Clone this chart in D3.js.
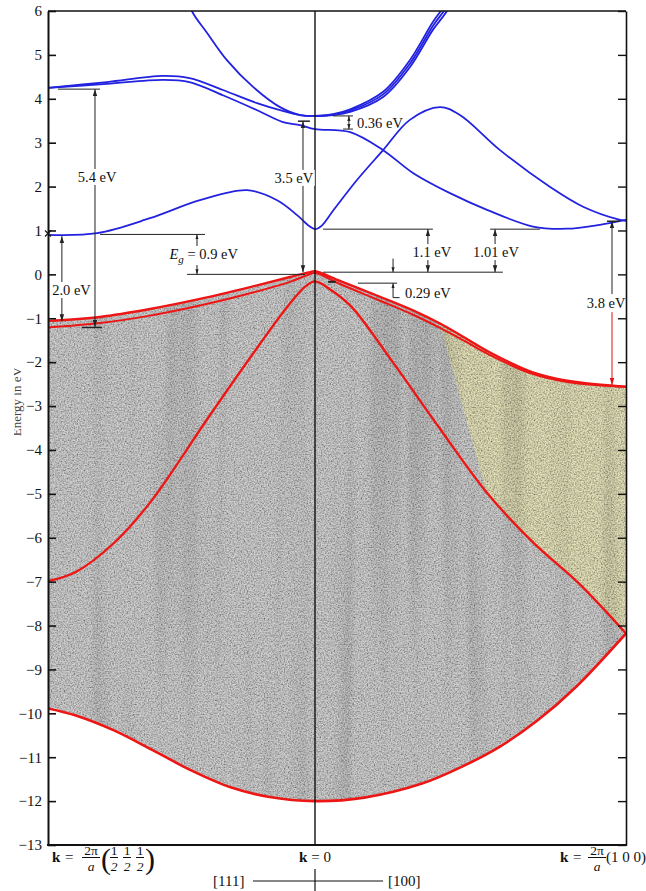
<!DOCTYPE html>
<html><head><meta charset="utf-8">
<script src="https://cdn.jsdelivr.net/npm/d3@7/dist/d3.min.js"></script>
<style>
body{margin:0;background:#fff}
svg{display:block}
text{font-family:"Liberation Serif","Times New Roman",serif;fill:#111}
</style>
</head><body>
<svg id="c" width="646" height="891"></svg>
<script>
// ---------- data: [k, E(eV)]; k=-1 at L (2π/a)(½½½), 0 at Γ, 1 at X (2π/a)(100)
const yTicks = d3.range(-13, 7);
// conduction bands (blue)
const cbLow = [[-1,0.90],[-0.816,0.94],[-0.618,1.28],[-0.431,1.69],[-0.255,1.92],[-0.142,1.69],[-0.067,1.35],[-0.022,1.10],[0,1.03],
  [0.02,1.10],[0.058,1.45],[0.135,2.15],[0.219,2.83],[0.305,3.52],[0.402,3.81],[0.466,3.63],[0.595,2.83],[0.756,1.99],[0.862,1.54],[0.981,1.24],[1,1.22]];
const cbMid = [[-1,4.25],[-0.78,4.34],[-0.57,4.43],[-0.47,4.38],[-0.345,4.08],[-0.217,3.74],[-0.12,3.47],[-0.056,3.40],[0,3.31],
  [0.113,3.24],[0.219,2.83],[0.315,2.31],[0.434,1.85],[0.553,1.47],[0.701,1.09],[0.81,1.04],[0.916,1.13],[1,1.24]];
const cbUp1 = [[-1,4.25],[-0.78,4.38],[-0.57,4.52],[-0.47,4.47],[-0.345,4.20],[-0.217,3.90],[-0.131,3.74],[-0.056,3.63],[0,3.61],
  [0.058,3.63],[0.113,3.70],[0.219,4.04],[0.305,4.72],[0.379,5.57],[0.424,6.0],[0.45,6.4]];
const cbUp2 = [[-0.48,6.4],[-0.461,6.0],[-0.404,5.5],[-0.33,4.88],[-0.232,4.27],[-0.131,3.81],[-0.056,3.63],[0,3.61],
  [0.058,3.64],[0.113,3.73],[0.219,4.10],[0.305,4.80],[0.379,5.66],[0.424,6.1],[0.45,6.5]];
const cbUp3 = [[0,3.61],[0.058,3.65],[0.113,3.76],[0.219,4.16],[0.305,4.88],[0.379,5.75],[0.424,6.2],[0.45,6.6]];
// valence bands (red)
const vbHeavy = [[-1,-1.06],[-0.805,-0.97],[-0.618,-0.79],[-0.431,-0.56],[-0.243,-0.29],[-0.094,-0.06],[-0.019,0.05],[0,0.07],
  [0.08,-0.15],[0.209,-0.51],[0.315,-0.82],[0.402,-1.12],[0.476,-1.42],[0.563,-1.78],[0.691,-2.21],[0.772,-2.37],[0.852,-2.46],[1,-2.56]];
const vbLight = [[-1,-1.21],[-0.805,-1.11],[-0.618,-0.94],[-0.431,-0.71],[-0.243,-0.43],[-0.094,-0.17],[-0.03,-0.02],[0,0.03],
  [0.08,-0.22],[0.209,-0.60],[0.315,-0.92],[0.402,-1.22],[0.476,-1.50],[0.563,-1.84],[0.691,-2.25],[0.772,-2.40],[0.852,-2.49],[1,-2.56]];
const vbInner = [[-1,-6.99],[-0.896,-6.78],[-0.753,-6.12],[-0.618,-5.2],[-0.404,-3.3],[-0.243,-1.9],[-0.105,-0.75],[-0.037,-0.28],[0,-0.16],
  [0.05,-0.35],[0.116,-0.73],[0.25,-2.0],[0.4,-3.5],[0.55,-4.95],[0.7,-6.1],[0.85,-7.05],[1,-8.18]];
const vbBottom = [[-1,-9.89],[-0.896,-10.05],[-0.753,-10.39],[-0.608,-10.84],[-0.464,-11.3],[-0.319,-11.68],[-0.176,-11.9],[0,-12.0],
  [0.158,-11.92],[0.344,-11.6],[0.468,-11.23],[0.592,-10.77],[0.716,-10.16],[0.839,-9.4],[1,-8.18]];
// annotation values
const gapLabels = ["5.4 eV","2.0 eV","3.5 eV","0.36 eV","1.1 eV","1.01 eV","0.29 eV","3.8 eV"];

// ---------- scales
const x = d3.scaleLinear().domain([-1,0,1]).range([48,315,626]);
const y = d3.scaleLinear().domain([-13,6]).range([845,11]);
const svg = d3.select("#c");
const defs = svg.append("defs");
defs.append("clipPath").attr("id","plot").append("rect")
  .attr("x",x(-1)).attr("y",y(6)).attr("width",x(1)-x(-1)).attr("height",y(-13)-y(6));
defs.append("clipPath").attr("id","ylab").append("rect").attr("x",14).attr("y",300).attr("width",20).attr("height",200);

const flt = defs.append("filter").attr("id","grain").attr("x",0).attr("y",0).attr("width",1).attr("height",1);
flt.append("feTurbulence").attr("type","fractalNoise").attr("baseFrequency","0.7").attr("numOctaves",2).attr("seed",4).attr("result","n");
flt.append("feColorMatrix").attr("in","n").attr("type","saturate").attr("values",0).attr("result","g");
const ct = flt.append("feComponentTransfer").attr("in","g").attr("result","g2");
["R","G","B"].forEach(c=>ct.append("feFunc"+c).attr("type","linear").attr("slope",1.7).attr("intercept",-0.1));
ct.append("feFuncA").attr("type","linear").attr("slope",0).attr("intercept",1);
flt.append("feTurbulence").attr("type","fractalNoise").attr("baseFrequency","0.045 0.0015").attr("numOctaves",2).attr("seed",9).attr("result","s");
flt.append("feColorMatrix").attr("in","s").attr("type","saturate").attr("values",0).attr("result","sg");
const ct2 = flt.append("feComponentTransfer").attr("in","sg").attr("result","s2");
["R","G","B"].forEach(c=>ct2.append("feFunc"+c).attr("type","linear").attr("slope",0.9).attr("intercept",0.55));
ct2.append("feFuncA").attr("type","linear").attr("slope",0).attr("intercept",1);
flt.append("feBlend").attr("in","g2").attr("in2","s2").attr("mode","multiply").attr("result","tx");
flt.append("feBlend").attr("in","SourceGraphic").attr("in2","tx").attr("mode","multiply").attr("result","b");
flt.append("feComposite").attr("in","b").attr("in2","SourceGraphic").attr("operator","in");

function mk(id,color,len){
  defs.append("marker").attr("id",id).attr("viewBox","0 0 10 10").attr("refX",10).attr("refY",5)
    .attr("markerWidth",len).attr("markerHeight",len).attr("markerUnits","userSpaceOnUse")
    .attr("orient","auto-start-reverse").append("path").attr("d","M0,1.8 L10,5 L0,8.2 Z").attr("fill",color);
}
mk("ah","#222",7); mk("ahs","#222",5); mk("ahr","#e01010",7);

const line = d3.line().x(d=>x(d[0])).y(d=>y(d[1])).curve(d3.curveCatmullRom.alpha(0.5));

// ---------- shaded valence region
const plot = svg.append("g").attr("clip-path","url(#plot)");
const shade = plot.append("g").attr("filter","url(#grain)");
const regionD = line(vbHeavy) + "L" + line(vbBottom.slice().reverse()).substring(1) + "Z";
shade.append("path").attr("d",regionD).attr("fill","#d0d0d0");
const yTop = vbHeavy.filter(d=>d[0]>=0.40), yBot = vbInner.filter(d=>d[0]>=0.55).reverse();
shade.append("path").attr("d", line(yTop) + "L" + line(yBot).substring(1) + "Z")
  .attr("fill","#fff8a0").attr("opacity",0.45);

// Γ line
svg.append("line").attr("x1",x(0)).attr("x2",x(0)).attr("y1",y(6)).attr("y2",y(-13))
  .attr("stroke","#111").attr("stroke-width",1.4);

// bands
const red="#ee1515", blue="#2222e0";
[[vbBottom,2.6],[vbInner,2.3],[vbLight,2.0],[vbHeavy,2.4]].forEach(([d,w])=>
  plot.append("path").attr("d",line(d)).attr("fill","none").attr("stroke",red).attr("stroke-width",w));
[cbLow,cbMid,cbUp1,cbUp2,cbUp3].forEach(d=>
  plot.append("path").attr("d",line(d)).attr("fill","none").attr("stroke",blue).attr("stroke-width",1.8));

// ---------- annotations
const an = svg.append("g").attr("stroke","#222").attr("stroke-width",1).attr("fill","none");
function seg(k1,E1,k2,E2,opt={}){
  const l = an.append("line").attr("x1",x(k1)).attr("y1",y(E1)).attr("x2",x(k2)).attr("y2",y(E2));
  if(opt.s) l.attr("marker-start",`url(#${opt.s})`);
  if(opt.e) l.attr("marker-end",`url(#${opt.e})`);
  if(opt.c) l.attr("stroke",opt.c);
  if(opt.w) l.attr("stroke-width",opt.w);
  return l;
}
const tg = svg.append("g").attr("font-size",14.5);
function label(txt,k,E,anchor="middle",bg=true){
  const t = tg.append("text").attr("x",x(k)).attr("y",y(E)).attr("dy","0.35em").attr("text-anchor",anchor).text(txt);
  if(bg){const b=t.node().getBBox();
    tg.insert("rect",()=>t.node()).attr("x",b.x-1).attr("y",b.y).attr("width",b.width+2).attr("height",b.height).attr("fill","#fff");}
  return t;
}
// 5.4 eV
seg(-0.963,4.22,-0.805,4.22);
seg(-0.824,-1.20,-0.824,4.22,{s:"ah",e:"ah"});
seg(-0.873,-1.21,-0.798,-1.21,{w:1.5});
label(gapLabels[0],-0.816,2.22);
// 2.0 eV
seg(-0.948,-1.07,-0.948,0.87,{s:"ah",e:"ah"});
label(gapLabels[1],-0.912,-0.355);
// cross on axis at L
an.append("path").attr("d",`M${x(-1)-3},${y(0.93)-3}L${x(-1)+3},${y(0.93)+3}M${x(-1)-3},${y(0.93)+3}L${x(-1)+3},${y(0.93)-3}`).attr("stroke-width",1.4);
// Eg
seg(-0.805,0.91,-0.412,0.91);
seg(-0.479,0.0,-0.037,0.0);
seg(-0.442,0.0,-0.442,0.91,{s:"ahs",e:"ahs"});
{
  const t = tg.append("text").attr("x",x(-0.545)).attr("y",y(0.35));
  t.append("tspan").attr("font-style","italic").text("E");
  t.append("tspan").attr("font-style","italic").attr("font-size",11).attr("dy",4).text("g");
  t.append("tspan").attr("dy",-4).text(" = 0.9 eV");
  const b=t.node().getBBox();
  tg.insert("rect",()=>t.node()).attr("x",b.x-1).attr("y",b.y).attr("width",b.width+2).attr("height",b.height).attr("fill","#fff");
}
// 3.5 eV
seg(-0.064,3.49,-0.019,3.49,{w:1.5});
seg(-0.045,0.05,-0.045,3.49,{s:"ah",e:"ah"});
label(gapLabels[2],-0.079,2.2);
// 0.36 eV
seg(0.058,3.61,0.122,3.61);
seg(0.09,3.31,0.122,3.31);
seg(0.109,3.31,0.109,3.61,{s:"ahs",e:"ahs"});
label(gapLabels[3],0.135,3.45,"start",false);
// 1.1 eV and 1.01 eV
seg(0.026,1.03,0.379,1.03);
seg(0.026,0.05,0.604,0.05);
seg(0.363,0.05,0.363,1.03,{s:"ah",e:"ah"});
label(gapLabels[4],0.376,0.51);
seg(0.563,1.03,0.723,1.03);
seg(0.579,0.05,0.579,1.03,{s:"ah",e:"ah"});
label(gapLabels[5],0.582,0.51);
// small arrow onto VB top, 0.29 eV bracket
seg(0.251,0.36,0.251,0.05,{e:"ahs"});
seg(0.138,-0.2,0.264,-0.2);
seg(0.251,-0.53,0.251,-0.2,{e:"ahs"});
seg(0.251,-0.53,0.272,-0.53);
seg(0.042,-0.17,0.066,-0.17,{w:2});
label(gapLabels[6],0.289,-0.42,"start",false);
// 3.8 eV
seg(0.939,1.21,0.981,1.21,{w:1.5});
seg(0.955,-0.45,0.955,1.21,{e:"ah"});
seg(0.955,-0.86,0.955,-2.52,{e:"ahr",c:"#e01010"});
label(gapLabels[7],0.936,-0.66,"middle",false);

// ---------- axes and frame
const ax = svg.append("g").attr("transform",`translate(${x(-1)},0)`)
  .call(d3.axisLeft(y).tickValues(yTicks).tickSizeInner(-8).tickSizeOuter(0).tickPadding(6));
ax.attr("font-family",null).attr("font-size",null);
ax.selectAll("text").attr("font-size",15).attr("fill","#111");
ax.select(".domain").attr("stroke-width",2).attr("stroke","#111");
ax.selectAll(".tick line").attr("stroke-width",1.6).attr("stroke","#111");
const axr = svg.append("g").attr("transform",`translate(${x(1)},0)`)
  .call(d3.axisRight(y).tickValues(yTicks).tickSizeInner(-8).tickSizeOuter(0).tickFormat(()=>""));
axr.select(".domain").attr("stroke-width",1.6).attr("stroke","#111");
axr.selectAll(".tick line").attr("stroke-width",1.4).attr("stroke","#111");
svg.append("line").attr("x1",x(-1)).attr("x2",x(1)).attr("y1",y(6)).attr("y2",y(6)).attr("stroke","#111").attr("stroke-width",1.6);
svg.append("line").attr("x1",x(-1)-1).attr("x2",x(1)+1).attr("y1",y(-13)).attr("y2",y(-13)).attr("stroke","#111").attr("stroke-width",2);

// y-axis title (partly cut off in original)
svg.append("g").attr("clip-path","url(#ylab)").append("text")
  .attr("transform",`translate(21,${y(-2.9)}) rotate(-90)`).attr("text-anchor","middle")
  .attr("font-size",13).style("fill","#444").text("Energy in eV");

// ---------- bottom labels
const bl = svg.append("g").attr("font-size",15);
function frac(g,cx,top,bot,yb,w,fs=13.5){
  g.append("text").attr("x",cx).attr("y",yb-7).attr("text-anchor","middle").attr("font-size",fs).text(top);
  g.append("text").attr("x",cx).attr("y",yb+9).attr("text-anchor","middle").attr("font-size",fs).attr("font-style","italic").text(bot);
  g.append("line").attr("x1",cx-w/2).attr("x2",cx+w/2).attr("y1",yb-4.5).attr("y2",yb-4.5).attr("stroke","#111").attr("stroke-width",1);
}
const yb = 862;
// left: k = 2π/a (½ ½ ½)
bl.append("text").attr("x",52).attr("y",yb).attr("font-weight","bold").text("k");
bl.append("text").attr("x",65).attr("y",yb).text("=");
frac(bl,91,"2π","a",yb,18);
bl.append("text").attr("x",101).attr("y",yb+7).attr("font-size",30).text("(");
frac(bl,114,"1","2",yb,8);
frac(bl,127,"1","2",yb,8);
frac(bl,140,"1","2",yb,8);
bl.append("text").attr("x",145).attr("y",yb+7).attr("font-size",30).text(")");
// center
bl.append("text").attr("x",x(0)).attr("y",yb).attr("text-anchor","middle")
  .html('<tspan font-weight="bold">k</tspan> = 0');
bl.append("text").attr("x",213).attr("y",886).text("[111]");
bl.append("text").attr("x",388).attr("y",886).text("[100]");
bl.append("line").attr("x1",253).attr("x2",383).attr("y1",881).attr("y2",881).attr("stroke","#111").attr("stroke-width",1.2);
bl.append("line").attr("x1",x(0)).attr("x2",x(0)).attr("y1",869).attr("y2",891).attr("stroke","#111").attr("stroke-width",1.2);
// right: k = 2π/a (1 0 0)
bl.append("text").attr("x",560).attr("y",yb).attr("font-weight","bold").text("k");
bl.append("text").attr("x",573).attr("y",yb).text("=");
frac(bl,597,"2π","a",yb,18);
bl.append("text").attr("x",606).attr("y",yb).text("(1 0 0)");
</script>
</body></html>
